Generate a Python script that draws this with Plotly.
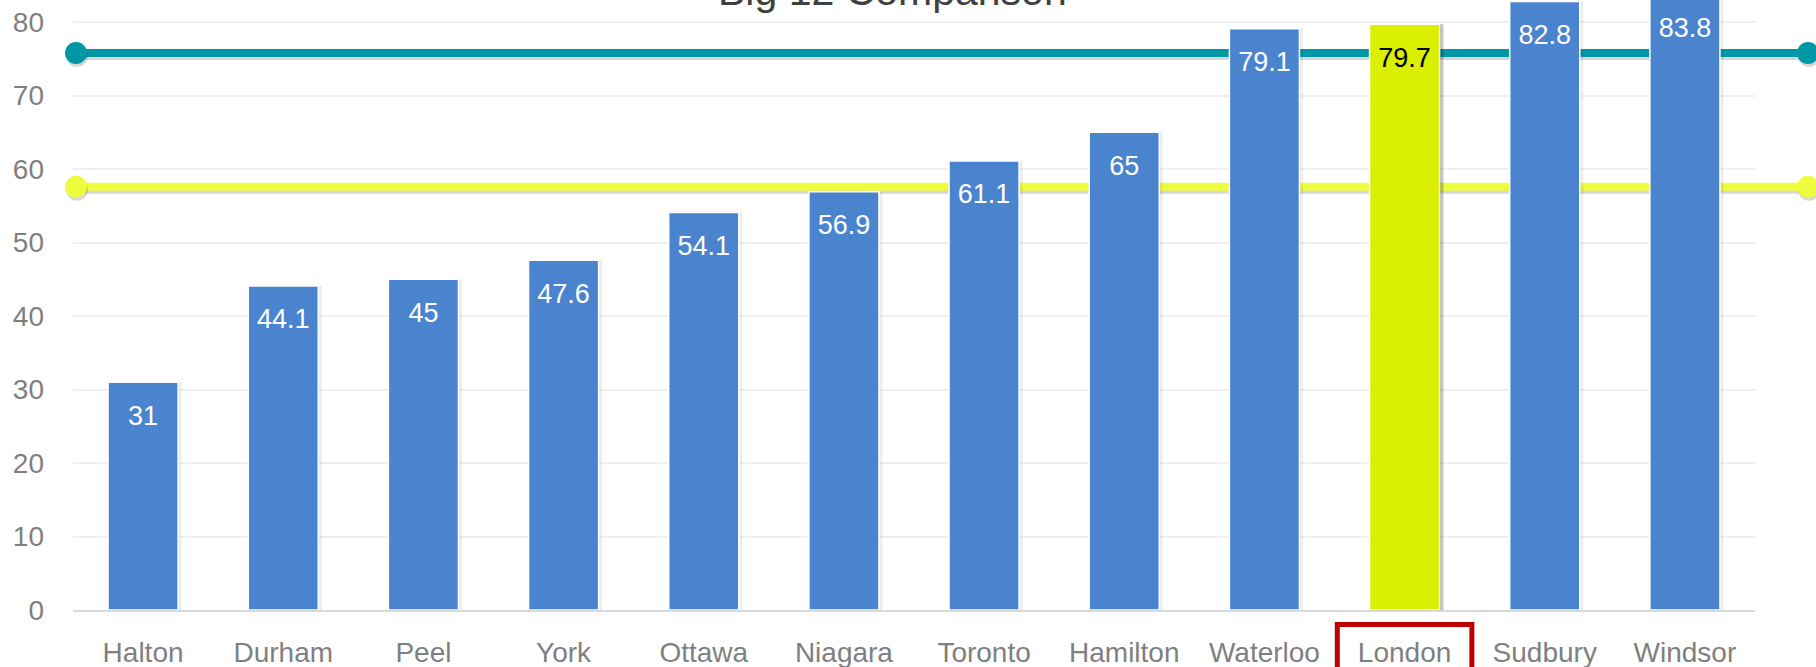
import plotly.graph_objects as go

# ---------------- data ----------------
categories = ["Halton", "Durham", "Peel", "York", "Ottawa", "Niagara",
              "Toronto", "Hamilton", "Waterloo", "London", "Sudbury", "Windsor"]
values = [31, 44.1, 45, 47.6, 54.1, 56.9, 61.1, 65, 79.1, 79.7, 82.8, 83.8]
highlight = "London"
teal_ref = 75.8
yellow_ref = 57.6
title_text = "Big 12 Comparison"
y_ticks = [0, 10, 20, 30, 40, 50, 60, 70, 80]

# ---------------- styles ----------------
BLUE = "#4A84CE"
HILITE = "#DAF000"
TEAL = "#0097A7"
YELLOW = "#EDFD3D"
RED = "#C00000"
GREY_TXT = "#7F7F7F"
FONT = "Liberation Sans"

hi_idx = categories.index(highlight)
bar_colors = [HILITE if c == highlight else BLUE for c in categories]
label_colors = ["#000000" if c == highlight else "#FFFFFF" for c in categories]
labels = [f"{v:g}" for v in values]

fig = go.Figure()

# soft halo shadow for all bars
fig.add_trace(go.Bar(x=categories, y=values, width=0.53, offset=-0.255,
                     marker=dict(color="rgba(0,0,0,0.07)", line=dict(width=0)),
                     hoverinfo="skip", showlegend=False))
# stronger drop shadow for highlighted bar
hi_vals = [v if c == highlight else None for c, v in zip(categories, values)]
fig.add_trace(go.Bar(x=categories, y=hi_vals, width=0.5, offset=-0.22,
                     marker=dict(color="rgba(0,0,0,0.13)", line=dict(width=0)),
                     hoverinfo="skip", showlegend=False))
fig.add_trace(go.Bar(x=categories, y=hi_vals, width=0.5, offset=-0.235,
                     marker=dict(color="rgba(0,0,0,0.15)", line=dict(width=0)),
                     hoverinfo="skip", showlegend=False))
# main bars
fig.add_trace(go.Bar(x=categories, y=values, width=0.5, offset=-0.25,
                     marker=dict(color=bar_colors, line=dict(color="white", width=1.5)),
                     showlegend=False))
# data labels (clipped to plot area so off-range anchors still show their text)
fig.add_trace(go.Scatter(x=categories, y=values, mode="markers+text",
                         text=labels, textposition="bottom center",
                         marker=dict(size=34, color="rgba(0,0,0,0)"),
                         textfont=dict(family=FONT, size=27, color=label_colors),
                         cliponaxis=True, hoverinfo="skip", showlegend=False))

shapes = []
for val, col in [(teal_ref, TEAL), (yellow_ref, YELLOW)]:
    # shadow
    shapes.append(dict(type="line", xref="paper", yref="y", layer="below",
                       x0=0.0018, x1=1.0315, ysizemode="pixel", yanchor=val,
                       y0=-3, y1=-3, line=dict(color="rgba(0,0,0,0.16)", width=8)))
    shapes.append(dict(type="line", xref="paper", yref="y", layer="below",
                       x0=0.0018, x1=1.0315, y0=val, y1=val,
                       line=dict(color=col, width=8)))
    for xa in (0.0018, 1.0315):
        shapes.append(dict(type="circle", xref="paper", yref="y", layer="below",
                           xsizemode="pixel", ysizemode="pixel",
                           xanchor=xa, yanchor=val, x0=-10, x1=12, y0=-14, y1=8,
                           fillcolor="rgba(0,0,0,0.15)", line=dict(width=0)))
        shapes.append(dict(type="circle", xref="paper", yref="y", layer="below",
                           xsizemode="pixel", ysizemode="pixel",
                           xanchor=xa, yanchor=val, x0=-11, x1=11, y0=-11, y1=11,
                           fillcolor=col, line=dict(width=0)))

# red box around highlighted category label
shapes.append(dict(type="rect", xref="x", yref="paper", layer="above",
                   x0=hi_idx - 0.48, x1=hi_idx + 0.48,
                   ysizemode="pixel", yanchor=0, y0=-14.5, y1=-120,
                   line=dict(color=RED, width=5)))

fig.update_layout(
    width=1816, height=667,
    margin=dict(l=73, r=61, t=0, b=57, pad=0, autoexpand=False),
    paper_bgcolor="white", plot_bgcolor="rgba(0,0,0,0)",
    barmode="overlay",
    shapes=shapes,
    font=dict(family=FONT, color=GREY_TXT),
    annotations=[dict(text=title_text, xref="paper", yref="paper",
                      x=0.4875, y=1, xanchor="center", yanchor="bottom",
                      yshift=-16, showarrow=False,
                      font=dict(family=FONT, size=41, color="#404040"))],
    xaxis=dict(type="category", categoryorder="array", categoryarray=categories,
               range=[-0.5, len(categories) - 0.5], automargin=False,
               showgrid=False, showline=True, linecolor="#D9D9D9", linewidth=2,
               ticks="", tickfont=dict(size=28, color=GREY_TXT),
               ticklabelstandoff=16),
    yaxis=dict(range=[0, 83], tickvals=y_ticks, showgrid=True, automargin=False,
               gridcolor="#EFEFEF", gridwidth=1.5, zeroline=False,
               showline=False, ticks="", tickfont=dict(size=28, color=GREY_TXT),
               ticklabelstandoff=28),
)

fig.write_html("out.html",
               config={"displayModeBar": False},
               post_script="document.body.style.margin='0';"
                           "document.body.style.overflow='hidden';")
